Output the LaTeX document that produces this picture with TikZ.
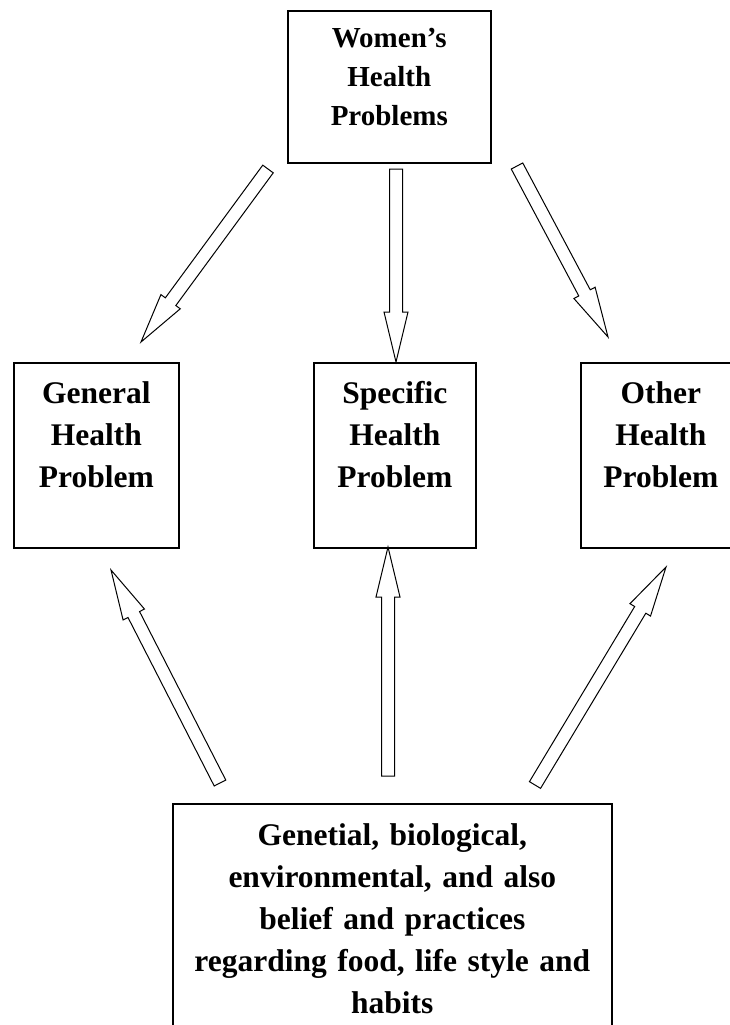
\documentclass[tikz,border=0pt]{standalone}
\usepackage{fontspec}
\setmainfont{Liberation Serif}
\usepackage{tikz}
\usetikzlibrary{calc}

% hollow block arrow from #1 (tail) to #2 (tip)
\newcommand{\fatarrow}[2]{%
	\coordinate (fh) at ($(#2)!50pt!(#1)$);
	\draw[fatarr] ($(#1)!6.5pt!-90:(#2)$) -- ($(fh)!6.5pt!90:(#1)$) -- ($(fh)!12pt!90:(#1)$)
		-- (#2) -- ($(fh)!12pt!-90:(#1)$) -- ($(fh)!6.5pt!-90:(#1)$) -- ($(#1)!6.5pt!90:(#2)$) -- cycle;}

\begin{document}
\begin{tikzpicture}[x=1pt, y=-1pt]
					\tikzset{
						probbox/.style={
							shape=rectangle,
							draw=black,
							line width=1.6pt,
							fill=white,
							inner sep=0pt,
							align=center,
							anchor=north west,
							font=\bfseries\fontsize{31.5}{42}\selectfont
						},
						midbox/.style={probbox, text height=41pt, text depth=144pt},
						fatarr/.style={draw=black, line width=1pt, fill=white, line join=miter}
					}
					\clip (0,0) rectangle (730,1025);
					
					\node[probbox, text width=203pt, text height=37pt, text depth=115pt,
						font=\bfseries\fontsize{29}{39}\selectfont] (women) at (287,10) {Women’s\\Health\\Problems};
					\node[midbox, text width=165pt] (general) at (13,362) {General\\Health\\Problem};
					\node[midbox, text width=162pt] (specific) at (313,362) {Specific\\Health\\Problem};
					\node[midbox, text width=160pt] (other) at (580,362) {Other\\Health\\Problem};
					\node[probbox, text width=439pt, text height=42pt, text depth=300pt] (factors) at (172,803)
						{Genetial, biological,\\environmental, and also\\belief and practices\\regarding food, life style and\\habits};
					
					\coordinate (wg) at (268,169);  \coordinate (gw) at (141,342);
					\coordinate (ws) at (396,169);  \coordinate (sw) at (396,362);
					\coordinate (wo) at (517,166);  \coordinate (ow) at (608,337);
					\coordinate (fg) at (220,783);  \coordinate (gf) at (111,570);
					\coordinate (fs) at (388,776);  \coordinate (sf) at (388,547);
					\coordinate (fo) at (535,785);  \coordinate (of) at (666,567);
					
					\fatarrow{wg}{gw}
					\fatarrow{ws}{sw}
					\fatarrow{wo}{ow}
					\fatarrow{fg}{gf}
					\fatarrow{fs}{sf}
					\fatarrow{fo}{of}
				\end{tikzpicture}
\end{document}
